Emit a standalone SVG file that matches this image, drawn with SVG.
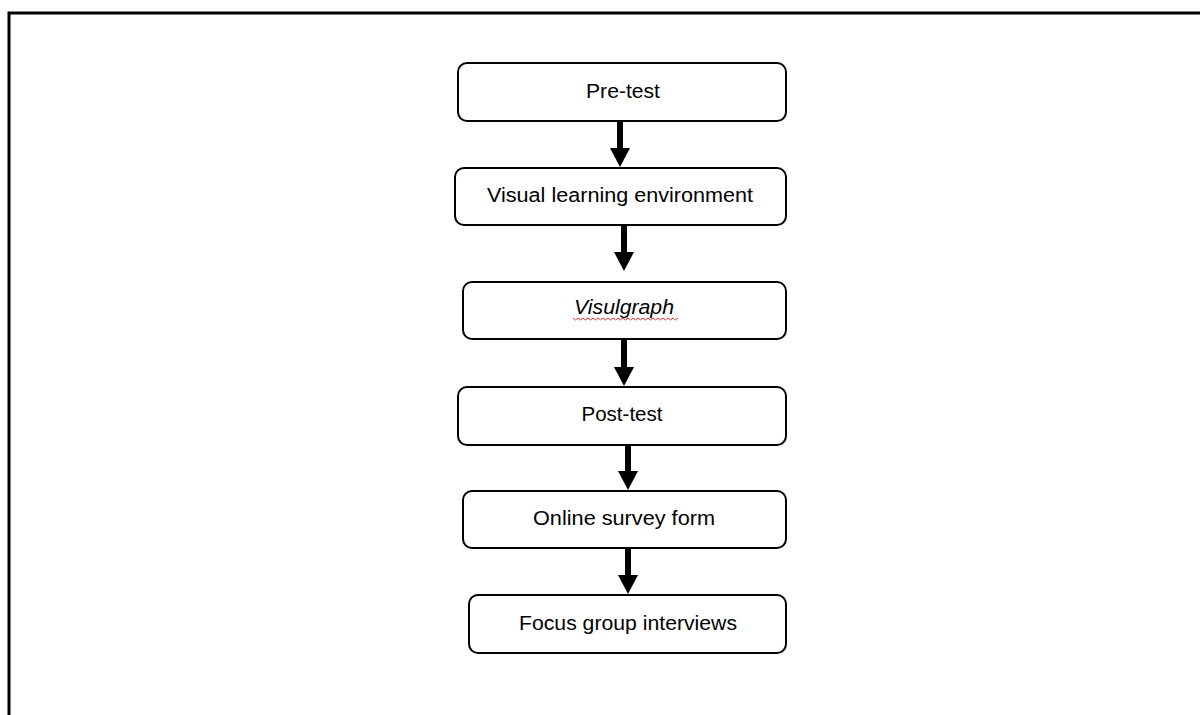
<svg xmlns="http://www.w3.org/2000/svg" width="1200" height="715" viewBox="0 0 1200 715">
<style>
.box{fill:#fff;stroke:#000;stroke-width:2}
.lbl{font-family:"Liberation Sans",Arial,sans-serif;font-size:20px;fill:#000;text-anchor:middle}
.arr{stroke:#000;stroke-width:6;fill:none;marker-end:url(#ah)}
</style>
<defs>
<marker id="ah" markerUnits="userSpaceOnUse" viewBox="0 -10 19 20" refX="9" refY="0" markerWidth="19" markerHeight="20" orient="auto">
<path d="M0,-10 L19,0 L0,10 z" fill="#000"/>
</marker>
</defs>
<rect width="1200" height="715" fill="#fff"/>
<path d="M9,715 V13 H1200" fill="none" stroke="#000" stroke-width="3"/>
<g id="connectors">
<line class="arr" x1="620" y1="121" x2="620" y2="157"/>
<line class="arr" x1="624" y1="225" x2="624" y2="261"/>
<line class="arr" x1="624" y1="339" x2="624" y2="376"/>
<line class="arr" x1="628" y1="445" x2="628" y2="480"/>
<line class="arr" x1="628" y1="548" x2="628" y2="584"/>
</g>
<g id="n1"><rect class="box" x="458" y="63" width="328" height="58" rx="9"/><text class="lbl" x="623" y="98" textLength="74" lengthAdjust="spacingAndGlyphs">Pre-test</text></g>
<g id="n2"><rect class="box" x="455" y="168" width="331" height="57" rx="9"/><text class="lbl" x="620" y="202" textLength="266" lengthAdjust="spacingAndGlyphs">Visual learning environment</text></g>
<g id="n3"><rect class="box" x="463" y="282" width="323" height="57" rx="9"/><text class="lbl" x="624" y="314" font-style="italic" textLength="100" lengthAdjust="spacingAndGlyphs">Visulgraph</text>
<path d="M573,318 l2.5,2 l2.5,-2 l2.5,2 l2.5,-2 l2.5,2 l2.5,-2 l2.5,2 l2.5,-2 l2.5,2 l2.5,-2 l2.5,2 l2.5,-2 l2.5,2 l2.5,-2 l2.5,2 l2.5,-2 l2.5,2 l2.5,-2 l2.5,2 l2.5,-2 l2.5,2 l2.5,-2 l2.5,2 l2.5,-2 l2.5,2 l2.5,-2 l2.5,2 l2.5,-2 l2.5,2 l2.5,-2 l2.5,2 l2.5,-2 l2.5,2 l2.5,-2 l2.5,2 l2.5,-2 l2.5,2 l2.5,-2 l2.5,2 l2.5,-2 l2.5,2 l2.5,-2" fill="none" stroke="#e03030" stroke-width="1"/></g>
<g id="n4"><rect class="box" x="458" y="387" width="328" height="58" rx="9"/><text class="lbl" x="622" y="421" textLength="81" lengthAdjust="spacingAndGlyphs">Post-test</text></g>
<g id="n5"><rect class="box" x="463" y="491" width="323" height="57" rx="9"/><text class="lbl" x="624" y="525" textLength="182" lengthAdjust="spacingAndGlyphs">Online survey form</text></g>
<g id="n6"><rect class="box" x="469" y="595" width="317" height="58" rx="9"/><text class="lbl" x="628" y="630" textLength="218" lengthAdjust="spacingAndGlyphs">Focus group interviews</text></g>
</svg>
